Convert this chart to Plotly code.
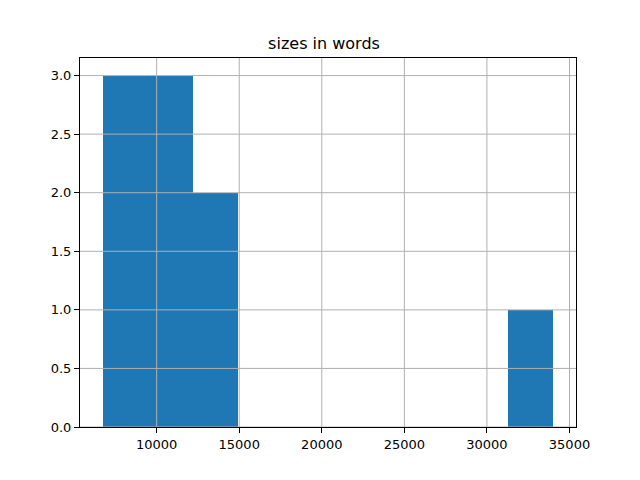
import plotly.graph_objects as go

# Histogram data (10 bins between min and max)
bin_min = 6723
bin_max = 34029
counts = [3, 3, 2, 0, 0, 0, 0, 0, 0, 1]
title = "sizes in words"
y_ticks = [0.0, 0.5, 1.0, 1.5, 2.0, 2.5, 3.0]
x_ticks = [10000, 15000, 20000, 25000, 30000, 35000]

n = len(counts)
w = (bin_max - bin_min) / n
centers = [bin_min + w * (i + 0.5) for i in range(n)]
span = bin_max - bin_min

fig = go.Figure(go.Bar(x=centers, y=counts, width=[w] * n,
                       marker=dict(color="#1f77b4", line=dict(width=0))))

grid_color = "#b0b0b0"
axis_common = dict(showline=True, linecolor="black", linewidth=1, mirror=True,
                   ticks="outside", ticklen=5, tickcolor="black",
                   showgrid=False, zeroline=False, layer="above traces",
                   tickfont=dict(family="DejaVu Sans", size=13, color="black"))

# gridlines drawn above the bars, as in the reference
shapes = []
for v in x_ticks:
    shapes.append(dict(type="line", xref="x", yref="paper", x0=v, x1=v, y0=0, y1=1,
                       line=dict(color=grid_color, width=1), layer="above"))
for v in y_ticks:
    shapes.append(dict(type="line", xref="paper", yref="y", x0=0, x1=1, y0=v, y1=v,
                       line=dict(color=grid_color, width=1), layer="above"))

W, H = 632, 472  # page body has 8px margin
fig.update_layout(
    width=W, height=H,
    margin=dict(l=72, r=64, t=50, b=53),
    paper_bgcolor="white", plot_bgcolor="white",
    title=dict(text=title, x=0.5, xanchor="center", y=1 - 35 / H, yanchor="middle",
               font=dict(family="DejaVu Sans", size=16, color="black")),
    xaxis=dict(range=[bin_min - 0.05 * span, bin_max + 0.05 * span],
               tickvals=x_ticks, ticktext=[str(v) for v in x_ticks], **axis_common),
    yaxis=dict(range=[0, max(counts) * 1.05], tickvals=y_ticks,
               ticktext=[f"{v:.1f}" for v in y_ticks], **axis_common),
    shapes=shapes,
    showlegend=False, bargap=0,
)

fig.write_html("out.html")
